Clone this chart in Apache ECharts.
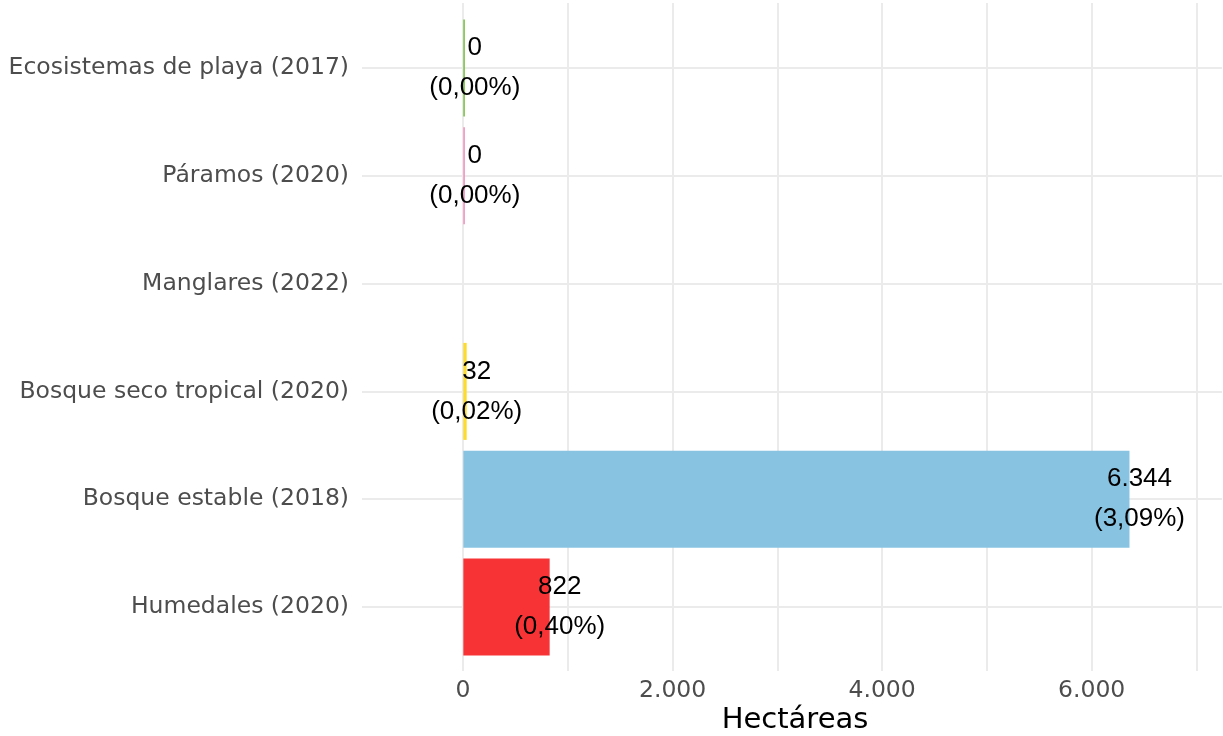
<!DOCTYPE html>
<html>
<head>
<meta charset="utf-8">
<script src="https://cdn.jsdelivr.net/npm/echarts@6/dist/echarts.min.js"></script>
<style>
html,body{margin:0;padding:0;background:#fff;}
#chart{width:1223px;height:736px;}
</style>
</head>
<body>
<div id="chart"></div>
<script>
// Data (bottom to top)
const categories = ['Humedales (2020)', 'Bosque estable (2018)', 'Bosque seco tropical (2020)', 'Manglares (2022)', 'Páramos (2020)', 'Ecosistemas de playa (2017)'];
const hectares = [822, 6344, 32, null, 0, 0];
const percents = [0.40, 3.09, 0.02, null, 0.00, 0.00];
const xTicks = [0, 2000, 4000, 6000];
const barColors = ['#F83335', '#88C4E2', '#FDDC2E', '#4DAF4A', '#F08CBE', '#74BE3E'];

function fmtInt(v) {
  return String(Math.round(v)).replace(/\B(?=(\d{3})+(?!\d))/g, '.');
}
function fmtPct(p) {
  return '(' + p.toFixed(2).replace('.', ',') + '%)';
}

const chart = echarts.init(document.getElementById('chart'), null, {renderer: 'canvas'});
const gridColor = '#EBEBEB';
const fontSans = '"DejaVu Sans", Verdana, sans-serif';

const barData = hectares.map((v, i) => v === null ? '-' : {value: v, itemStyle: {color: barColors[i]}});

chart.setOption({
  animation: false,
  backgroundColor: '#ffffff',
  grid: [
    {left: 358.3, right: 1, top: 3, bottom: 65, containLabel: false},
    {left: 362, right: 1, top: 14.1, bottom: 75.1, containLabel: false}
  ],
  xAxis: [
    {
      gridIndex: 0, type: 'value', min: -1000, max: 7225, interval: 1000,
      axisLine: {show: false}, axisTick: {show: false},
      splitLine: {show: true, showMinLine: false, showMaxLine: false, lineStyle: {color: gridColor, width: 2}},
      axisLabel: {
        margin: 8, fontFamily: fontSans, fontSize: 23.5, lineHeight: 24, color: '#4D4D4D',
        formatter: v => xTicks.indexOf(v) >= 0 ? fmtInt(v) : ''
      }
    },
    {
      gridIndex: 1, type: 'value', min: -965, max: 7225, show: false,
      splitLine: {show: false}
    }
  ],
  yAxis: [
    {gridIndex: 0, type: 'value', show: false, splitLine: {show: false}},
    {
      gridIndex: 1, type: 'category', data: categories,
      axisLine: {show: false}, axisTick: {show: false}, splitLine: {show: false},
      axisLabel: {margin: 13, fontFamily: fontSans, fontSize: 23.5, color: '#4D4D4D'}
    }
  ],
  graphic: [{
    type: 'text', x: 795, y: 720,
    style: {text: 'Hectáreas', fontFamily: fontSans, fontSize: 29, fill: '#000', textAlign: 'center', textVerticalAlign: 'middle'}
  }],
  series: [{
    type: 'bar', xAxisIndex: 1, yAxisIndex: 1,
    data: barData,
    barCategoryGap: '10%',
    barMinHeight: 1.5,
    z: 3,
    label: {
      show: true, position: 'right', distance: 10, align: 'center', verticalAlign: 'middle',
      fontFamily: '"Liberation Sans", Arial, sans-serif', fontSize: 26, lineHeight: 40, color: '#000',
      formatter: p => fmtInt(hectares[p.dataIndex]) + '\n' + fmtPct(percents[p.dataIndex])
    },
    markLine: {
      silent: true, symbol: 'none', z: 1,
      label: {show: false},
      lineStyle: {color: gridColor, width: 2, type: 'solid'},
      data: categories.map(c => ({yAxis: c}))
    }
  }]
});
</script>
</body>
</html>
